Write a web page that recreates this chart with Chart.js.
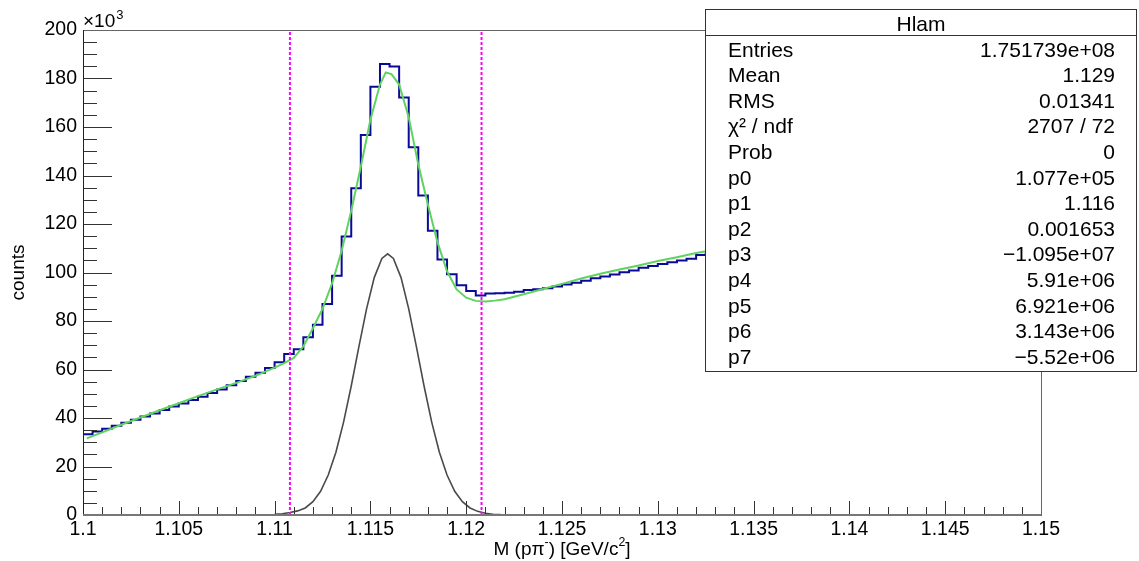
<!DOCTYPE html>
<html>
<head>
<meta charset="utf-8">
<script src="https://cdn.jsdelivr.net/npm/chart.js@4.4.1/dist/chart.umd.min.js"></script>
<style>
  body { margin: 0; background: #fff; }
  #wrap { width: 1139px; height: 561px; }
</style>
</head>
<body>
<div id="wrap"><canvas id="hlam" width="1139" height="561"></canvas></div>
<script>
// histogram Hlam, counts in units of 10^3, 100 bins of 0.0005 from 1.1
const binLow = 1.1;
const binWidth = 0.0005;
const binCounts = [
    33.3, 34.4, 35.6, 36.8, 38.0, 39.3, 40.6, 41.9, 43.3, 44.7,
    46.0, 47.4, 48.8, 50.3, 51.8, 53.5, 55.3, 57.0, 58.7, 60.6,
    63.0, 66.4, 68.4, 73.3, 78.5, 87.0, 98.7, 114.8, 134.7, 156.7,
    176.6, 186.0, 184.9, 172.2, 151.6, 131.8, 117.2, 105.4, 99.3, 94.7,
    92.4, 90.5, 91.3, 91.4, 91.6, 92.1, 92.8, 93.1, 93.5, 94.2,
    95.1, 95.8, 96.6, 97.6, 98.3, 99.2, 100.1, 100.8, 102.0, 102.7,
    103.5, 104.2, 104.9, 105.7, 107.2, 107.8, 108.5, 109.1, 109.8, 110.4,
    111.0, 111.6, 112.2, 112.7, 113.3, 113.8, 114.3, 114.8, 115.3, 115.7,
    116.1, 116.5, 116.9, 117.2, 117.5, 117.8, 118.0, 118.3, 118.5, 118.6,
    118.8, 118.9, 119.0, 119.1, 119.1, 119.2, 119.2, 119.1, 119.1, 119.0
];

// total fit (green)
const fitX = [1.1002, 1.101, 1.102, 1.103, 1.104, 1.105, 1.106, 1.107, 1.108, 1.109,
    1.110, 1.1105, 1.111, 1.1115, 1.112, 1.1125, 1.113, 1.1135, 1.114, 1.1145,
    1.115, 1.1155, 1.1158, 1.1161, 1.1165, 1.117, 1.1175, 1.118, 1.1185, 1.119,
    1.1195, 1.12, 1.1205, 1.121, 1.1215, 1.122, 1.123, 1.124, 1.125, 1.126,
    1.127, 1.128, 1.129, 1.13, 1.131, 1.132, 1.134, 1.136, 1.138, 1.14,
    1.142, 1.144, 1.146, 1.148, 1.15];
const fitY = [31.6, 34.1, 37.2, 40.2, 43.2, 46.1, 49.0, 51.8, 54.5, 57.4,
    60.8, 62.6, 64.8, 69.5, 77.0, 85.0, 95.5, 109.0, 125.5, 143.6,
    163.0, 177.5, 182.5, 181.8, 177.5, 164.0, 144.5, 128.0, 112.5, 100.5,
    93.0, 89.6, 88.3, 88.0, 88.4, 89.0, 91.0, 93.2, 95.3, 97.5,
    99.5, 101.2, 102.9, 104.7, 106.3, 108.0, 110.8, 113.3, 115.6, 117.6,
    119.3, 120.7, 121.8, 122.6, 123.0];

// signal gaussian (grey)
const sigX = [1.1100, 1.1104, 1.1108, 1.1112, 1.1116, 1.1120, 1.1124, 1.1128, 1.1132, 1.1136,
    1.1140, 1.1144, 1.1148, 1.1152, 1.1156, 1.1159, 1.1162, 1.1166, 1.1170, 1.1174,
    1.1178, 1.1182, 1.1186, 1.1190, 1.1194, 1.1198, 1.1202, 1.1206, 1.1210, 1.1214,
    1.1218, 1.1222, 1.1226, 1.1250];
const sigY = [0.3, 0.5, 1.0, 1.7, 2.9, 5.5, 9.8, 16.5, 25.9, 38.3,
    53.2, 69.4, 85.0, 97.9, 105.8, 107.7, 105.8, 97.9, 85.0, 69.4,
    53.2, 38.3, 25.9, 16.5, 9.8, 5.5, 2.9, 1.5, 0.7, 0.3,
    0.15, 0.1, 0.05, 0.0];

// mass window cuts
const cutLines = [1.1108, 1.1208];

const statTitle = "Hlam";
const statLabels = ["Entries", "Mean", "RMS", "χ² / ndf", "Prob", "p0", "p1", "p2", "p3", "p4", "p5", "p6", "p7"];
const statValues = ["1.751739e+08", "1.129", "0.01341", "2707 / 72", "0", "1.077e+05", "1.116",
    "0.001653", "−1.095e+07", "5.91e+06", "6.921e+06", "3.143e+06", "−5.52e+06"];

const FONT = "'Liberation Sans', Arial, sans-serif";

const histPoints = binCounts.map((c, i) => ({ x: binLow + i * binWidth, y: c }));
histPoints.push({ x: binLow + binCounts.length * binWidth, y: binCounts[binCounts.length - 1] });

const cutSets = cutLines.map(c => ({
    data: [{ x: c, y: 0 }, { x: c, y: 200 }],
    borderColor: "#ff00ff",
    borderWidth: 2,
    borderDash: [3, 2],
    pointRadius: 0,
    order: 0
}));

function drawRich(ctx, parts, x, y, size) {
    let w = 0;
    parts.forEach(p => {
        ctx.font = (p.sup ? size * 0.65 : size) + "px " + FONT;
        w += ctx.measureText(p.t).width;
    });
    let cx = x - w / 2;
    parts.forEach(p => {
        ctx.font = (p.sup ? size * 0.65 : size) + "px " + FONT;
        ctx.fillText(p.t, cx, p.sup ? y - size * 0.45 : y);
        cx += ctx.measureText(p.t).width;
    });
}

const rootStyle = {
    id: "rootStyle",
    afterDatasetsDraw(chart) {
        const { ctx, chartArea: a, scales: { x, y } } = chart;
        ctx.save();
        // inward ticks
        ctx.strokeStyle = "#333";
        ctx.lineWidth = 1;
        ctx.beginPath();
        for (let k = 0; k <= 50; k++) {
            const px = Math.round(x.getPixelForValue(1.1 + k * 0.001)) + 0.5;
            const len = k % 5 === 0 ? 14 : 8;
            ctx.moveTo(px, a.bottom);
            ctx.lineTo(px, a.bottom - len);
        }
        for (let k = 0; k <= 40; k++) {
            const py = Math.round(y.getPixelForValue(k * 5)) + 0.5;
            const len = k % 4 === 0 ? 29 : 14;
            ctx.moveTo(a.left, py);
            ctx.lineTo(a.left + len, py);
        }
        ctx.stroke();
        // frame
        ctx.strokeStyle = "#666";
        ctx.strokeRect(a.left + 0.5, a.top + 0.5, a.right - a.left, a.bottom - a.top);
        ctx.strokeStyle = "#222";
        ctx.beginPath();
        ctx.moveTo(a.left + 0.5, a.top);
        ctx.lineTo(a.left + 0.5, a.bottom);
        ctx.stroke();
        ctx.strokeStyle = "#777";
        ctx.lineWidth = 2;
        ctx.beginPath();
        ctx.moveTo(a.left, a.bottom);
        ctx.lineTo(a.right, a.bottom);
        ctx.stroke();
        ctx.restore();
    },
    afterDraw(chart) {
        const { ctx, chartArea: a } = chart;
        ctx.save();
        ctx.fillStyle = "#000";
        ctx.textBaseline = "alphabetic";

        // exponent label
        ctx.textAlign = "left";
        ctx.font = "19px " + FONT;
        ctx.fillText("×10", a.left, 27);
        const w10 = ctx.measureText("×10").width;
        ctx.font = "13px " + FONT;
        ctx.fillText("3", a.left + w10 + 1, 19);

        // axis titles
        drawRich(ctx, [{ t: "M (pπ" }, { t: "-", sup: true }, { t: ") [GeV/c" }, { t: "2", sup: true }, { t: "]" }],
            (a.left + a.right) / 2, 555, 19);
        ctx.save();
        ctx.translate(24, (a.top + a.bottom) / 2);
        ctx.rotate(-Math.PI / 2);
        ctx.textAlign = "center";
        ctx.font = "19px " + FONT;
        ctx.fillText("counts", 0, 0);
        ctx.restore();

        // stats box
        const bx = 705.5, by = 9.5, bw = 431, bh = 362;
        ctx.fillStyle = "#fff";
        ctx.fillRect(bx, by, bw, bh);
        ctx.strokeStyle = "#333";
        ctx.lineWidth = 1;
        ctx.strokeRect(bx, by, bw, bh);
        ctx.beginPath();
        ctx.moveTo(bx, 35.5);
        ctx.lineTo(bx + bw, 35.5);
        ctx.stroke();
        ctx.fillStyle = "#000";
        ctx.font = "21px " + FONT;
        ctx.textAlign = "center";
        ctx.fillText(statTitle, bx + bw / 2, 30.5);
        statLabels.forEach((lab, i) => {
            const base = 56.5 + i * 25.6;
            ctx.textAlign = "left";
            ctx.fillText(lab, 728, base);
            ctx.textAlign = "right";
            ctx.fillText(statValues[i], 1115, base);
        });
        ctx.restore();
    }
};

new Chart(document.getElementById("hlam"), {
    type: "line",
    data: {
        datasets: [
            ...cutSets,
            {
                data: sigX.map((v, i) => ({ x: v, y: sigY[i] })),
                borderColor: "#4a4a4a",
                borderWidth: 1.6,
                pointRadius: 0,
                order: 1
            },
            {
                data: fitX.map((v, i) => ({ x: v, y: fitY[i] })),
                borderColor: "#5fd35f",
                borderWidth: 2,
                pointRadius: 0,
                order: 2
            },
            {
                data: histPoints,
                borderColor: "#0a0a96",
                borderWidth: 2,
                stepped: "before",
                pointRadius: 0,
                order: 3
            }
        ]
    },
    options: {
        responsive: false,
        animation: false,
        events: [],
        layout: { padding: { left: 0, top: 30, right: 98, bottom: 0 } },
        plugins: { legend: { display: false }, tooltip: { enabled: false } },
        scales: {
            x: {
                type: "linear",
                min: 1.1,
                max: 1.15,
                grid: { display: false, drawTicks: false },
                border: { display: false },
                ticks: {
                    stepSize: 0.005,
                    autoSkip: false,
                    maxRotation: 0,
                    padding: 3,
                    color: "#000",
                    font: { family: FONT, size: 19.5 },
                    callback: v => String(+v.toFixed(3))
                },
                afterFit: s => { s.height = 46; }
            },
            y: {
                min: 0,
                max: 200,
                grid: { display: false, drawTicks: false },
                border: { display: false },
                ticks: {
                    stepSize: 20,
                    padding: 6,
                    color: "#000",
                    font: { family: FONT, size: 19.5 }
                },
                afterFit: s => { s.width = 83; }
            }
        }
    },
    plugins: [rootStyle]
});
</script>
</body>
</html>
